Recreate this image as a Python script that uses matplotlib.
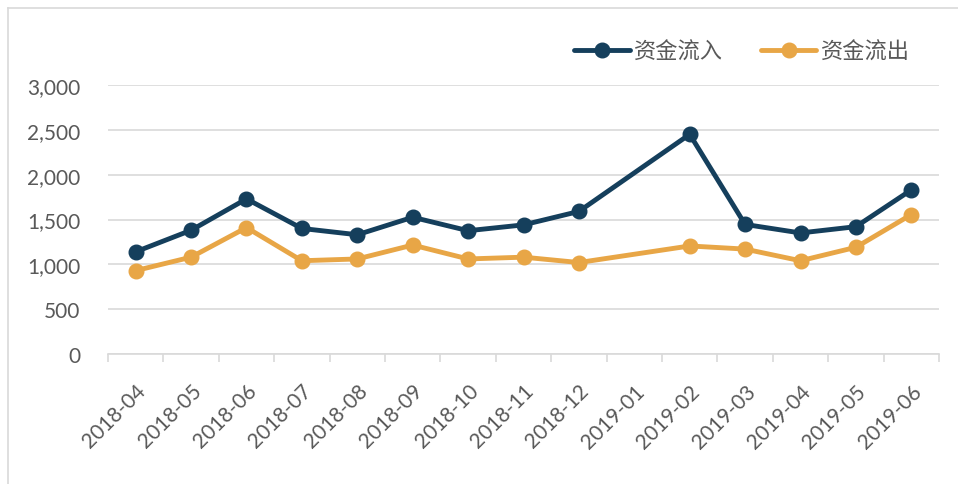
import matplotlib
matplotlib.use("Agg")
import matplotlib.pyplot as plt
import numpy as np
from matplotlib.lines import Line2D

categories = ["2018-04", "2018-05", "2018-06", "2018-07", "2018-08", "2018-09",
              "2018-10", "2018-11", "2018-12", "2019-01", "2019-02", "2019-03",
              "2019-04", "2019-05", "2019-06"]
inflow = [1140, 1380, 1730, 1400, 1330, 1525, 1375, 1440, 1590, None, 2450, 1445, 1350, 1420, 1830]
outflow = [930, 1080, 1410, 1040, 1060, 1215, 1060, 1080, 1020, None, 1205, 1170, 1040, 1190, 1555]
series_names = ["资金流入", "资金流出"]
colors = ["#153F5C", "#E8A646"]
yticks = [0, 500, 1000, 1500, 2000, 2500, 3000]

plt.rcParams['font.family'] = ['Lato', 'Noto Sans CJK SC', 'DejaVu Sans']

fig = plt.figure(figsize=(9.58, 4.85), dpi=100)
ax = fig.add_axes([108/958, 1-355/485, (939-108)/958, (355-86)/485])

x = np.arange(len(categories))
for vals, name, c in zip([inflow, outflow], series_names, colors):
    idx = [i for i, v in enumerate(vals) if v is not None]
    ys = [vals[i] for i in idx]
    ax.plot(x[idx], ys, color=c, lw=3.5, marker='o', markersize=10.5,
            solid_capstyle='round', solid_joinstyle='round', label=name, zorder=3)

ax.set_xlim(-0.5, len(categories) - 0.5)
ax.set_ylim(0, 3000)
ax.set_yticks(yticks)
ax.set_yticklabels([f"{v:,}" for v in yticks], fontsize=15, color='#595959')
ax.tick_params(axis='y', length=0, pad=20)
ax.yaxis.grid(True, color='#D9D9D9', lw=1.2)
ax.set_axisbelow(True)

ax.set_xticks(x)
ax.set_xticklabels(categories, rotation=45, ha='right', rotation_mode='anchor',
                   fontsize=15, color='#595959')
ax.tick_params(axis='x', which='major', length=0, pad=19)
ax.set_xticks(np.arange(-0.5, len(categories)), minor=True)
ax.tick_params(axis='x', which='minor', length=6, color='#D9D9D9', width=1.2)

for s in ['left', 'right', 'top']:
    ax.spines[s].set_visible(False)
ax.spines['bottom'].set_color('#D9D9D9')
ax.spines['bottom'].set_linewidth(1.2)

leg = fig.legend(loc='center', bbox_to_anchor=(742/958, 1-52/485), ncol=2, frameon=False,
                 handlelength=2.5, columnspacing=1.7, handletextpad=0.2,
                 prop={'family': ['Noto Sans CJK SC'], 'size': 16, 'weight': 'light'})
for t in leg.get_texts():
    t.set_color('#595959')

# chart border (left and top)
fig.add_artist(Line2D([8/958, 8/958], [0, 1-9/485], color='#D9D9D9', lw=1.2))
fig.add_artist(Line2D([8/958, 1], [1-9/485, 1-9/485], color='#D9D9D9', lw=1.2))

fig.savefig("out.png", dpi=100)
